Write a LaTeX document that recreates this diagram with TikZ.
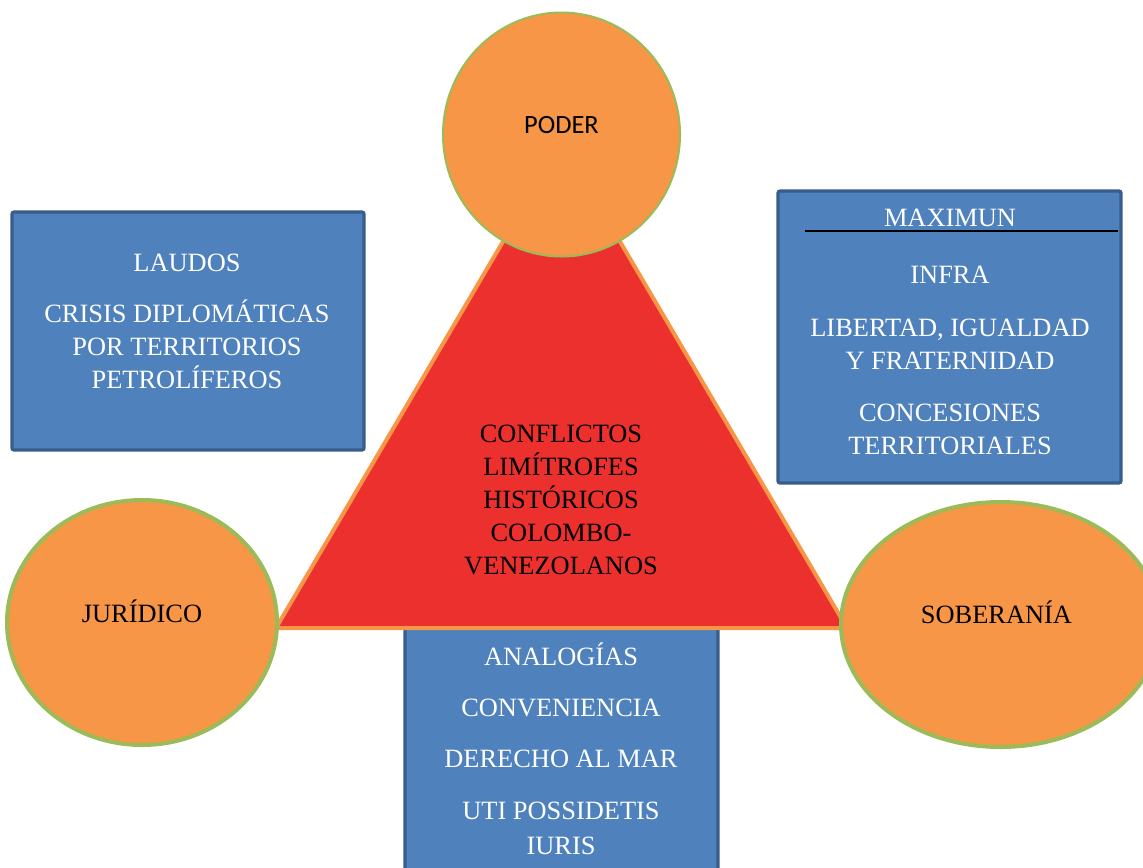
\documentclass[tikz,border=0pt]{standalone}
\usepackage{fontspec}
\setmainfont{Liberation Serif}
\newfontfamily\calibrifont{Carlito}
\definecolor{naranja}{HTML}{F79646}
\definecolor{verde}{HTML}{9BBB59}
\definecolor{azul}{HTML}{4F81BD}
\definecolor{azulborde}{HTML}{385D8A}
\definecolor{rojo}{HTML}{EC302D}
\tikzset{
  caja/.style={draw=azulborde, fill=azul, line width=1.6pt, rounded corners=1pt},
  ovalo/.style={draw=verde, fill=naranja, line width=2pt},
  textocaja/.style={align=center, text=white, font=\fontsize{13.2}{16.5}\selectfont},
  textonegro/.style={align=center, text=black, font=\fontsize{13.2}{16.5}\selectfont},
}
\begin{document}
\begin{tikzpicture}[x=0.5pt,y=-0.5pt]
\useasboundingbox (0,0) rectangle (1143,867);
\clip (0,0) rectangle (1143,867);
% cajas azules
\draw[caja] (12,212) rectangle (364,450);
\draw[caja] (778,191) rectangle (1121,483);
\draw[caja] (405,628) rectangle (718,900);
% triangulo
\draw[fill=rojo, draw=naranja, line width=2pt] (276,628) -- (561.5,142) -- (847,628) -- cycle;
% ovalos
\draw[ovalo, line width=1pt] (561.5,134.5) ellipse (118.5 and 122);
\draw[ovalo] (142,622.5) ellipse (135 and 122.5);
\draw[ovalo] (1000.5,624.5) ellipse (159.5 and 122.5);
% raya bajo MAXIMUN
\draw[line width=0.8pt] (805,231) -- (1118,231);
% textos
\node[textonegro, font=\calibrifont\fontsize{13.2}{16}\selectfont] (poder) at (561.5,125) {PODER};
\node[textonegro] (juridico) at (142,611) {JURÍDICO};
\node[textonegro] (soberania) at (996.5,612) {SOBERANÍA};
\node[textonegro] (conflictos) at (561,500) {CONFLICTOS\\ LIMÍTROFES\\ HISTÓRICOS\\ COLOMBO-\\ VENEZOLANOS};
\node[textocaja] (laudos) at (187,321) {LAUDOS\\[9pt] CRISIS DIPLOMÁTICAS\\ POR TERRITORIOS\\ PETROLÍFEROS};
\node[textocaja] (maximun) at (950,332) {MAXIMUN\\[12pt] INFRA\\[10pt] LIBERTAD, IGUALDAD\\ Y FRATERNIDAD\\[9.5pt] CONCESIONES\\ TERRITORIALES};
\node[textocaja] (analogias) at (561,748.5) {ANALOGÍAS\\[9pt] CONVENIENCIA\\[9pt] DERECHO AL MAR\\[9.5pt] UTI POSSIDETIS\\[1pt] IURIS};
\end{tikzpicture}
\end{document}
